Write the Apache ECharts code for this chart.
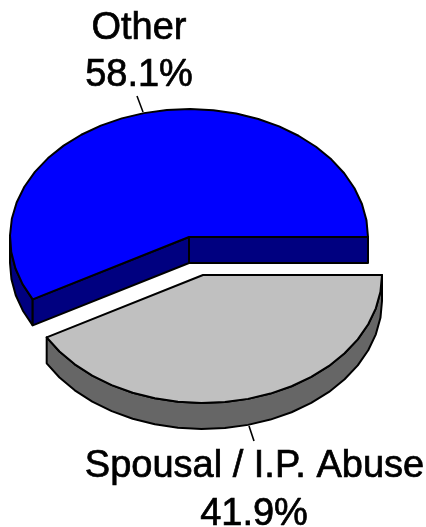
<!DOCTYPE html>
<html>
<head>
<meta charset="utf-8">
<style>html,body{margin:0;padding:0;background:#fff}#c{width:426px;height:527px}</style>
<script src="https://cdn.jsdelivr.net/npm/echarts@6/dist/echarts.min.js"></script>
</head>
<body>
<div id="c"></div>
<script>
var categories = ['Other', 'Spousal / I.P. Abuse'];
var shares = [58.1, 41.9];
var shareLabels = ['58.1%', '41.9%'];
var topColors = ['#0000ff', '#c0c0c0'];
var sideColors = ['#000080', '#666666'];

var chart = echarts.init(document.getElementById('c'), null, {renderer: 'canvas'});
var total = shares.reduce(function (a, b) { return a + b; }, 0);
var RX = 179, RY = 128, DEPTH = 26, STROKE = 2;
var CENTERS = [[189, 237], [203, 275]];
var FONT = '38px "Liberation Sans", Arial, sans-serif';

function pt(c, a, dy) {
  return [c[0] + RX * Math.cos(a), c[1] - RY * Math.sin(a) + (dy || 0)];
}
function arc(c, a0, a1, dy) {
  var n = Math.max(2, Math.round(Math.abs(a1 - a0) / (Math.PI / 24))), out = [];
  for (var i = 0; i <= n; i++) out.push(pt(c, a0 + (a1 - a0) * i / n, dy));
  return out;
}
function poly(points, fill) {
  return {type: 'polygon', shape: {points: points},
    style: {fill: fill, stroke: '#000', lineWidth: STROKE, lineJoin: 'round'}};
}
function line(x1, y1, x2, y2) {
  return {type: 'line', shape: {x1: x1, y1: y1, x2: x2, y2: y2},
    style: {stroke: '#000', lineWidth: 1.6}};
}
function text(str, x, y) {
  return {type: 'text', style: {text: str, x: x, y: y, font: FONT, fill: '#000',
    align: 'center', verticalAlign: 'middle', stroke: '#000', lineWidth: 0.7}};
}

function renderItem(params, api) {
  var i = params.dataIndex, children = [], c = CENTERS[i];
  var before = 0;
  for (var k = 0; k < i; k++) before += shares[k];
  var a0 = before / total * Math.PI * 2;
  var a1 = a0 + api.value(1) / total * Math.PI * 2;
  var top = topColors[i], side = sideColors[i];
  if (i === 0) {
    var rim = arc(c, Math.PI, a1, 0).concat(arc(c, a1, Math.PI, DEPTH));
    children.push(poly(rim, side));
    var e0 = pt(c, a0), e1 = pt(c, a1);
    children.push(poly([c, e0, [e0[0], e0[1] + DEPTH], [c[0], c[1] + DEPTH]], side));
    children.push(poly([c, e1, [e1[0], e1[1] + DEPTH], [c[0], c[1] + DEPTH]], side));
    children.push(poly([c].concat(arc(c, a0, a1, 0)), top));
    children.push(line(137, 96, 143, 112));
    children.push(text(categories[i], 139, 29));
    children.push(text(shareLabels[i], 139, 76));
  } else {
    var rim2 = arc(c, a0, a1, 0).concat(arc(c, a1, a0, DEPTH));
    children.push(poly(rim2, side));
    children.push(poly([c].concat(arc(c, a0, a1, 0)), top));
    children.push(line(249, 426, 254, 441));
    children.push(text(categories[i], 254.5, 467));
    children.push(text(shareLabels[i], 254, 515));
  }
  return {type: 'group', children: children};
}

chart.setOption({
  animation: false,
  backgroundColor: '#fff',
  series: [{
    type: 'custom',
    coordinateSystem: 'none',
    renderItem: renderItem,
    encode: {value: 1, itemName: 0},
    data: categories.map(function (n, i) { return [n, shares[i]]; })
  }]
});
</script>
</body>
</html>
